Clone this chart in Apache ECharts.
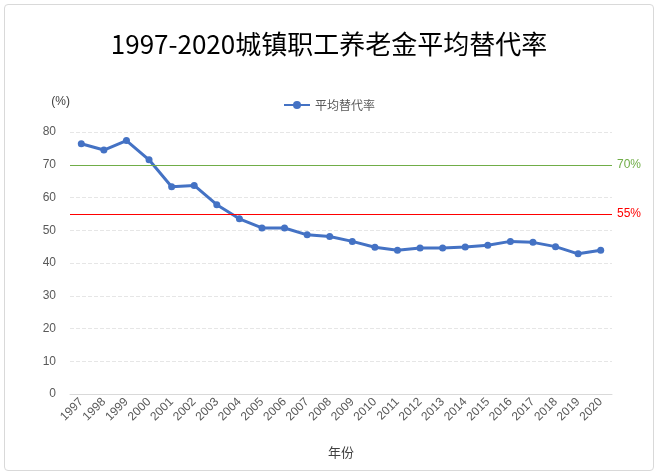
<!DOCTYPE html>
<html><head><meta charset="utf-8">
<script src="https://cdn.jsdelivr.net/npm/echarts@6/dist/echarts.min.js"></script>
<style>html,body{margin:0;padding:0;background:#fff}#box{position:absolute;left:4px;top:4px;width:648px;height:465px;border:1px solid #d9d9d9;border-radius:4px}#c{width:658px;height:475px}</style>
</head><body><div id="box"></div><div id="c"></div>
<script>
const years = ['1997','1998','1999','2000','2001','2002','2003','2004','2005','2006','2007','2008','2009','2010','2011','2012','2013','2014','2015','2016','2017','2018','2019','2020'];
const rate = [76.4,74.5,77.4,71.5,63.3,63.7,57.8,53.5,50.7,50.7,48.6,48.1,46.6,44.8,43.9,44.6,44.6,44.9,45.4,46.6,46.3,45.0,42.8,43.9];
const ref70 = 70;
const ref55 = 55;
const chart = echarts.init(document.getElementById('c'));
chart.setOption({
  animation:false,
  title:{text:'1997-2020城镇职工养老金平均替代率',left:'center',top:26,textStyle:{fontSize:26,fontWeight:'normal',color:'#000',fontFamily:'Noto Sans CJK SC'}},
  legend:{top:94,left:'center',itemWidth:26,itemHeight:10,textStyle:{color:'#595959',fontSize:12,fontFamily:'Noto Sans CJK SC'},data:['平均替代率']},
  grid:{left:70,right:46,top:132,bottom:81},
  xAxis:{type:'category',data:years,boundaryGap:true,name:'年份',nameLocation:'middle',nameGap:52,
    nameTextStyle:{color:'#404040',fontSize:13,fontFamily:'Noto Sans CJK SC'},
    axisLine:{lineStyle:{color:'#d9d9d9'}},axisTick:{show:false},
    axisLabel:{rotate:45,interval:0,color:'#595959',fontSize:12,margin:6}},
  yAxis:{type:'value',min:0,max:80,interval:10,name:'(%)',nameGap:24,nameTextStyle:{color:'#404040',fontSize:12,align:'right'},
    axisLabel:{color:'#595959',fontSize:12,margin:14},axisLine:{show:false},axisTick:{show:false},
    splitLine:{lineStyle:{color:'#e6e6e6',type:'dashed'}}},
  series:[{name:'平均替代率',type:'line',data:rate,symbol:'circle',symbolSize:7,
    lineStyle:{color:'#4472c4',width:3},itemStyle:{color:'#4472c4'},
    markLine:{symbol:'none',silent:true,data:[
      {yAxis:ref70,lineStyle:{color:'#70ad47',width:1.2,type:'solid',opacity:1},label:{formatter:'70%',color:'#70ad47',position:'end',fontSize:12}},
      {yAxis:ref55,lineStyle:{color:'#ff0000',width:1.2,type:'solid',opacity:1},label:{formatter:'55%',color:'#ff0000',position:'end',fontSize:12}}
    ]}}]
});
</script></body></html>
